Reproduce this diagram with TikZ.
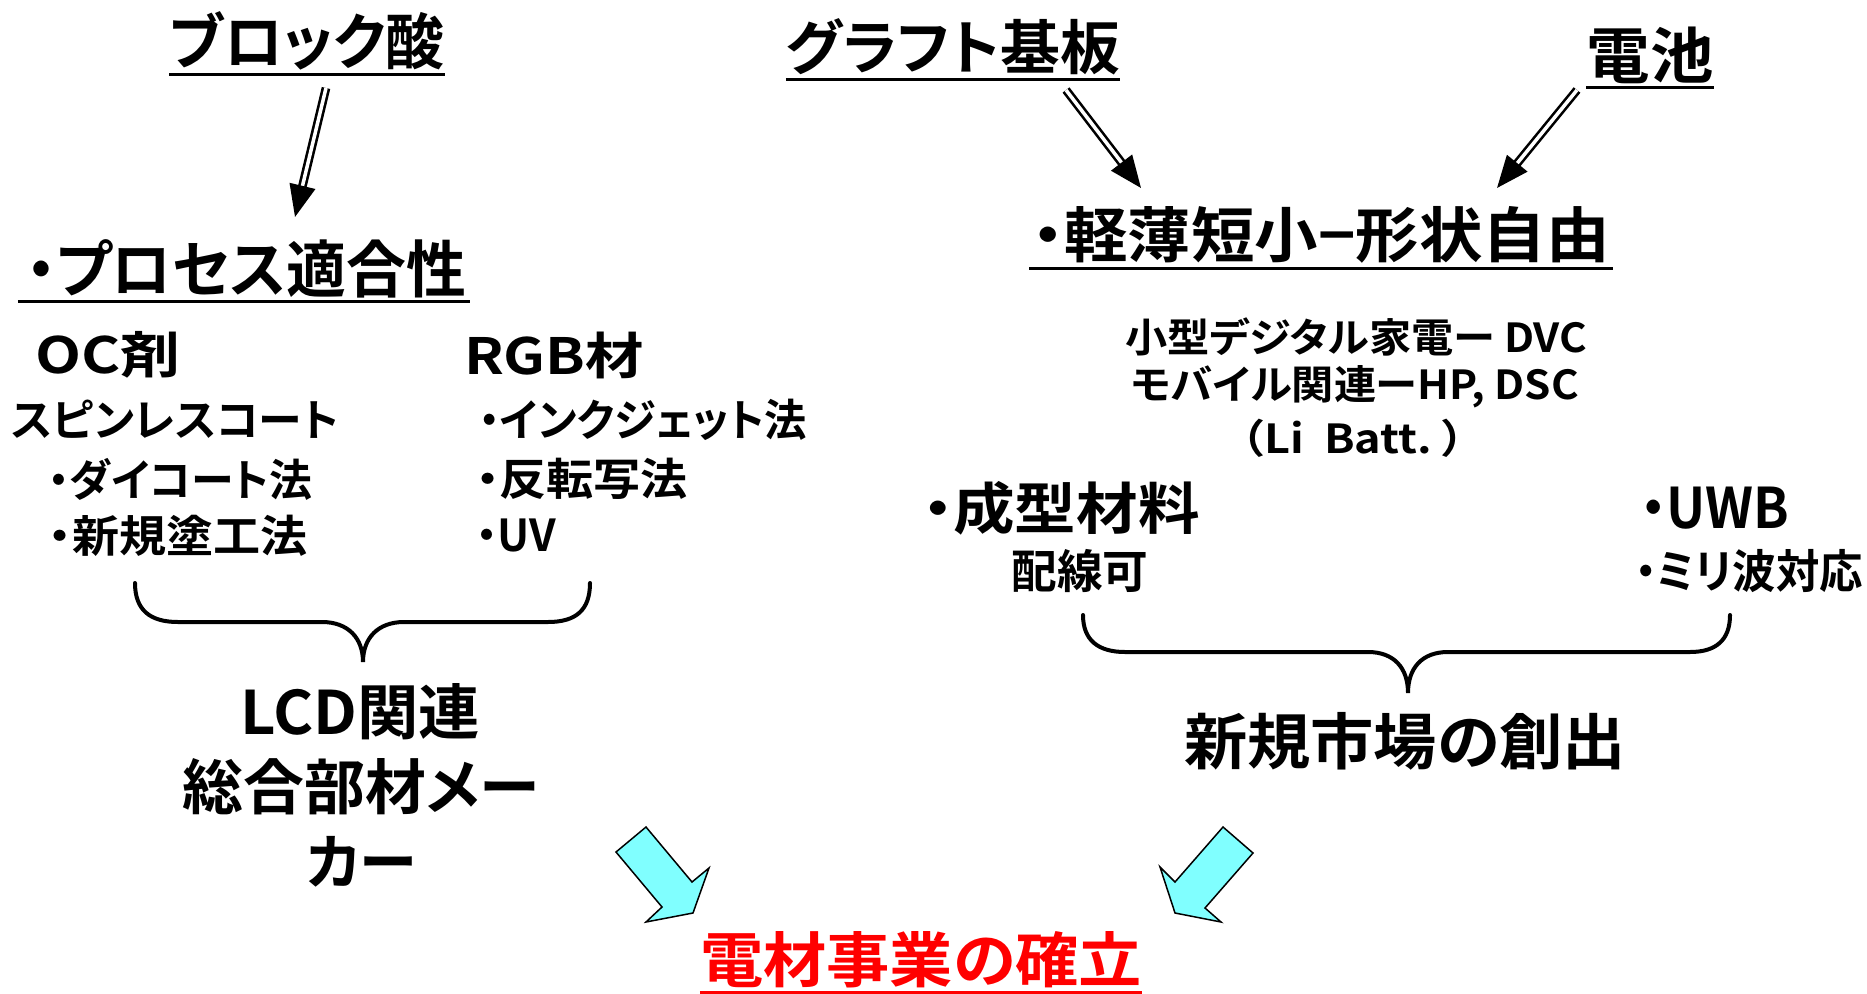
\documentclass[tikz,border=0pt]{standalone}
\usepackage{fontspec}
\usepackage{graphicx}
\usetikzlibrary{arrows.meta}
\newfontfamily\jp{Noto Sans CJK JP}[BoldFont={* Bold}, RawFeature=+palt]
\newcommand\fsz[1]{\fontsize{#1pt}{#1pt}\selectfont}
\newcommand\fitw[3]{{\fsz{#2}\resizebox{#1pt}{\height}{\vphantom{国}#3}}}
\definecolor{lcyan}{RGB}{128,255,255}
\definecolor{tred}{RGB}{255,0,0}
\tikzset{
  txt/.style={inner sep=0pt, font=\jp\bfseries, anchor=center},
  ul/.style={line width=3pt},
  dbl/.style={double, double distance=3.5pt, line width=2.6pt, -{Triangle[length=32pt,width=26pt]}},
  brace/.style={line width=4pt, line cap=round},
  blockarrow/.style={fill=lcyan, draw=black, line width=1.5pt, line join=miter}
}
\begin{document}
\begin{tikzpicture}[x=1pt,y=-1pt]
\fill[white] (0,0) rectangle (1867,993);
\useasboundingbox (0,0) rectangle (1867,993);

% top titles
\node[txt] (bl) at (307,41) {\fitw{275}{61}{ブロック酸}};
\draw[ul] ([yshift=-4pt]bl.south west) -- ([yshift=-4pt]bl.south east);
\node[txt] (gr) at (953,47) {\fitw{334}{59}{グラフト基板}};
\draw[ul] ([yshift=-4pt]gr.south west) -- ([yshift=-4pt]gr.south east);
\node[txt] (de) at (1650,55) {\fitw{127}{61}{電池}};
\draw[ul] ([yshift=-4pt]de.south west) -- ([yshift=-4pt]de.south east);

% second level headings
\node[txt] (pr) at (246,269) {\fitw{440}{62}{・プロセス適合性}};
\draw[ul] ([xshift=-8pt,yshift=-3pt]pr.south west) -- ([xshift=4pt,yshift=-3pt]pr.south east);
\node[txt] (kei) at (1321,235) {\fitw{577}{60}{・軽薄短小−形状自由}};
\draw[ul] ([xshift=-3pt,yshift=-5pt]kei.south west) -- ([xshift=3pt,yshift=-5pt]kei.south east);

% double arrows
\coordinate (a1s) at (326,88);
\coordinate (a1e) at (295,217);
\coordinate (a2s) at (1066,90);
\coordinate (a2e) at (1141,188);
\coordinate (a3s) at (1577,90);
\coordinate (a3e) at (1497,188);
\draw[dbl] (a1s) -- (a1e);
\draw[dbl] (a2s) -- (a2e);
\draw[dbl] (a3s) -- (a3e);

% left block
\node[txt] (oc) at (108,355) {\fitw{145}{50}{OC剤}};
\node[txt] (rgb) at (554,355) {\fitw{180}{50}{RGB材}};
\node[txt] (sp) at (175,420) {\fitw{327}{44}{スピンレスコート}};
\node[txt] (ink) at (643,420) {\fitw{328}{44}{・インクジェット法}};
\node[txt] (dai) at (180,479) {\fitw{264}{44}{・ダイコート法}};
\node[txt] (han) at (582,479) {\fitw{212}{44}{・反転写法}};
\node[txt] (shin) at (178,536) {\fitw{259}{44}{・新規塗工法}};
\node[txt] (uv) at (516,536) {\fitw{80}{44}{・UV}};

\draw[brace] (135,583) .. controls (135,610) and (150,622) .. (178,622) -- (322,622)
  .. controls (348,622) and (363,638) .. (363,662)
  .. controls (363,638) and (378,622) .. (404,622) -- (548,622)
  .. controls (576,622) and (590,610) .. (590,583);

\node[txt] (lcd1) at (360,712) {\fitw{240}{60}{LCD関連}};
\node[txt] (lcd2) at (361,787) {\fitw{357}{60}{総合部材メー}};
\node[txt] (lcd3) at (362,863) {\fitw{110}{60}{カー}};

% right block
\node[txt] (ko) at (1356,337) {\fitw{462}{40}{小型デジタル家電ー DVC}};
\node[txt] (mo) at (1355,387) {\fitw{448}{40}{モバイル関連ーHP, DSC}};
\node[txt] (li) at (1353,438) {\fitw{223}{40}{（Li\ \ Batt.\ ）}};
\node[txt] (sei) at (1061,508) {\fitw{277}{56}{・成型材料}};
\node[txt] (uwb) at (1715,508) {\fitw{149}{56}{・UWB}};
\node[txt] (hai) at (1080,571) {\fitw{137}{46}{配線可}};
\node[txt] (mir) at (1749,571) {\fitw{228}{46}{・ミリ波対応}};

\draw[brace] (1083,615) .. controls (1083,640) and (1098,652) .. (1125,652) -- (1368,652)
  .. controls (1394,652) and (1408,668) .. (1408,693)
  .. controls (1408,668) and (1422,652) .. (1448,652) -- (1690,652)
  .. controls (1716,652) and (1730,640) .. (1730,615);

\node[txt] (sj) at (1405,741) {\fitw{442}{61}{新規市場の創出}};

% cyan block arrows
\draw[blockarrow] (616,852) -- (646,827) -- (692,882) -- (709,868) -- (693,913) -- (646,922) -- (662,907) -- cycle;
\draw[blockarrow] (1223,827) -- (1253,853) -- (1205,908) -- (1221,922) -- (1175,913) -- (1160,867) -- (1175,882) -- cycle;

% bottom
\node[txt, text=tred] (den) at (921,960) {\fitw{442}{60}{電材事業の確立}};
\draw[ul, tred, line width=2.5pt] ([yshift=-4pt]den.south west) -- ([yshift=-4pt]den.south east);
\end{tikzpicture}
\end{document}
